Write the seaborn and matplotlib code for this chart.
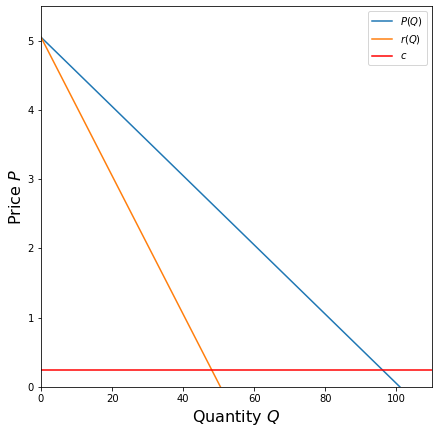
import numpy as np
import pandas as pd
import matplotlib
matplotlib.use("Agg")
import matplotlib.pyplot as plt
import seaborn as sns

# demand curve P(Q) and marginal revenue r(Q), constant cost c
demand_q = [0, 101]
demand_p = [5.05, 0.0]
revenue_q = [0, 50.5]
revenue_p = [5.05, 0.0]
cost_c = 0.25

fig = plt.figure(figsize=(438 / 72, 434 / 72), dpi=72)
ax = fig.add_axes([41 / 438, 47 / 434, 391 / 438, 381 / 434])

df_p = pd.DataFrame({"Q": demand_q, "P": demand_p})
df_r = pd.DataFrame({"Q": revenue_q, "P": revenue_p})

sns.lineplot(data=df_p, x="Q", y="P", ax=ax, color="tab:blue", label=r"$P(Q)$")
sns.lineplot(data=df_r, x="Q", y="P", ax=ax, color="tab:orange", label=r"$r(Q)$")
ax.axhline(cost_c, color="red", label=r"$c$")

ax.set_xlim(0, 110)
ax.set_ylim(0, 5.5)
ax.set_xlabel(r"Quantity $Q$", fontsize=16)
ax.set_ylabel(r"Price $P$", fontsize=16)
ax.legend(loc="upper right")

fig.savefig("out.png", dpi=72)
